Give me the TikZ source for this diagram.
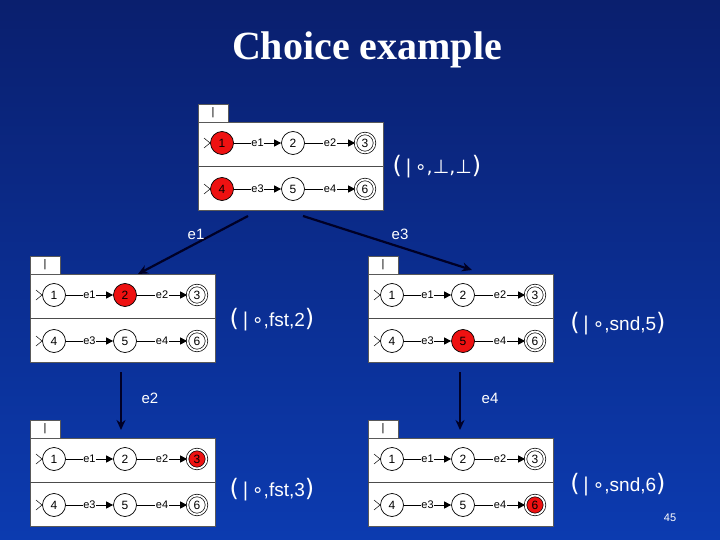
\documentclass[tikz,border=0pt]{standalone}
\usepackage{fontspec}
\setmainfont{Liberation Sans}
\newfontfamily\titlefont{Liberation Serif}
\newfontfamily\dvs{DejaVu Sans}
\usetikzlibrary{arrows.meta}
\definecolor{bgtop}{HTML}{0A1F6E}
\definecolor{bgbot}{HTML}{0C3BB0}
\definecolor{redst}{HTML}{EE1111}
\tikzset{
 st/.style={circle,draw=black,line width=0.7pt,minimum size=23pt,inner sep=0pt,font=\fontsize{12}{12}\selectfont},
 fin/.style={st,double,double distance=1.8pt,minimum size=19pt},
 tr/.style={-{Triangle[length=7pt,width=7pt]},line width=0.7pt},
 trl/.style={font=\fontsize{11}{11}\selectfont,fill=white,inner sep=0.5pt},
 big/.style={-{Stealth[length=10pt,width=9pt]},line width=2.2pt,black!85!blue},
 lab/.style={text=white,font=\fontsize{15}{15}\selectfont},
 tup/.style={text=white,font=\fontsize{19}{19}\selectfont},
}
\newcommand{\tp}[1]{{\dvs\fontsize{24}{24}\selectfont(}\,{\dvs|}\,{\dvs∘},#1{\dvs\fontsize{24}{24}\selectfont)}}
\newcommand{\panel}[9]{%
 \begin{scope}[shift={(#1,#2)}]
  \draw[fill=white,draw=gray!70!black] (0,-18) rectangle (30,0);
  \node[font=\fontsize{11}{11}\selectfont] at (15,-9) {|};
  \draw[fill=white,draw=gray!70!black] (0,0) rectangle (185,88);
  \draw[gray!60!black] (0,44) -- (185,44);
  \node[st,fill=#3] (#9a) at (24,21) {1};
  \node[st,fill=#4] (#9b) at (95,21) {2};
  \node[fin,fill=#5] (#9c) at (167,21) {3};
  \node[st,fill=#6] (#9d) at (24,67) {4};
  \node[st,fill=#7] (#9e) at (95,67) {5};
  \node[fin,fill=#8] (#9f) at (167,67) {6};
  \draw[line width=0.5pt] (6,16) -- (12,21) -- (6,26);
  \draw[line width=0.5pt] (6,62) -- (12,67) -- (6,72);
  \draw[tr] (#9a) -- node[trl]{e1} (#9b);
  \draw[tr] (#9b) -- node[trl]{e2} (#9c);
  \draw[tr] (#9d) -- node[trl]{e3} (#9e);
  \draw[tr] (#9e) -- node[trl]{e4} (#9f);
 \end{scope}}
\begin{document}
\begin{tikzpicture}[x=1pt,y=-1pt]
\shade[top color=bgtop,bottom color=bgbot] (0,0) rectangle (720,540);
\useasboundingbox (0,0) rectangle (720,540);
\node[text=white,font=\titlefont\bfseries\fontsize{40}{40}\selectfont] (title) at (367,50) {Choice example};
\panel{198}{122}{redst}{white}{white}{redst}{white}{white}{p}
\panel{30}{274}{white}{redst}{white}{white}{white}{white}{q}
\panel{368}{274}{white}{white}{white}{white}{redst}{white}{r}
\panel{30}{438}{white}{white}{redst}{white}{white}{white}{s}
\panel{368}{438}{white}{white}{white}{white}{white}{redst}{t}
\coordinate (pa) at (248,216);
\coordinate (pb) at (303,216);
\coordinate (qt) at (138,274);
\coordinate (rt) at (472,270);
\coordinate (qb) at (121,372);
\coordinate (sb) at (121,430);
\coordinate (rb) at (460,372);
\coordinate (tb) at (460,430);
\draw[big] (pa) -- (qt);
\draw[big] (pb) -- (rt);
\draw[big] (qb) -- (sb);
\draw[big] (rb) -- (tb);
\node[lab] (l1) at (196,234) {e1};
\node[lab] (l3) at (400,234) {e3};
\node[lab] (l2) at (150,398) {e2};
\node[lab] (l4) at (490,398) {e4};
\node[tup] (u1) at (437,167) {{\dvs\fontsize{24}{24}\selectfont(}\,{\dvs|}\,{\dvs∘,⊥,⊥}{\dvs\fontsize{24}{24}\selectfont)}};
\node[tup] (u2) at (272,320) {\tp{fst,2}};
\node[tup] (u3) at (618,324) {\tp{snd,5}};
\node[tup] (u4) at (272,490) {\tp{fst,3}};
\node[tup] (u5) at (618,485) {\tp{snd,6}};
\node[text=white,font=\fontsize{11}{11}\selectfont] (pg) at (670,518) {45};
\end{tikzpicture}
\end{document}
